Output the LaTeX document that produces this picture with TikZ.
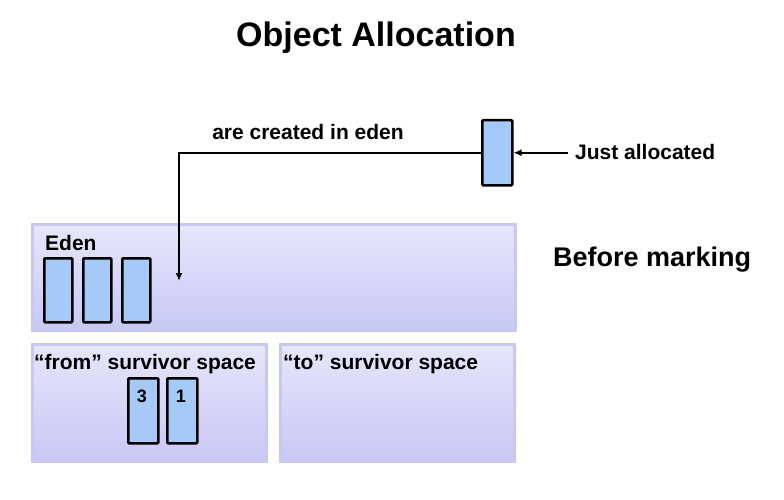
\documentclass[tikz,border=0pt]{standalone}
\usepackage{fontspec}
\setmainfont{Liberation Sans}
\usetikzlibrary{arrows.meta}
\definecolor{objfill}{RGB}{166,202,248}
\definecolor{regtop}{RGB}{230,230,251}
\definecolor{regbot}{RGB}{200,200,246}
\definecolor{regline}{RGB}{200,200,240}
\tikzset{
  region/.style={draw=regline, line width=2.5pt, top color=regtop, bottom color=regbot,
    anchor=north west, inner sep=0pt},
  obj/.style={draw=black, line width=2.5pt, fill=objfill, rounded corners=1pt,
    minimum width=28pt, minimum height=64pt, anchor=north west, inner sep=0pt},
  lbl/.style={font=\bfseries\fontsize{21}{24}\selectfont, inner sep=0pt},
  conn/.style={line width=2pt, -{Latex[length=8pt,width=7pt]}},
}
\begin{document}
\begin{tikzpicture}[x=1pt,y=-1pt]
\useasboundingbox (0,0) rectangle (784,500);
% title
\node[font=\bfseries\fontsize{34}{38}\selectfont, inner sep=0pt] (title) at (376,38) {Object Allocation};
% heap regions
\node[region, minimum width=483pt, minimum height=106pt] (eden) at (31,223) {};
\node[region, minimum width=234pt, minimum height=117pt] (from) at (31,343) {};
\node[region, minimum width=234pt, minimum height=117pt] (to) at (279,343) {};
\node[lbl, anchor=west] (edenlbl) at (45,243) {Eden};
\node[lbl, anchor=west] (fromlbl) at (34,364) {“from” survivor space};
\node[lbl, anchor=west] (tolbl) at (283,364) {“to” survivor space};
% objects in eden
\node[obj] (e1) at (43,257) {};
\node[obj] (e2) at (82,257) {};
\node[obj] (e3) at (121,257) {};
% objects in from space
\node[obj, minimum width=30pt, minimum height=65pt] (s3) at (127,377) {};
\node[obj, minimum width=30pt, minimum height=65pt] (s1) at (166,377) {};
\node[lbl, font=\bfseries\fontsize{18}{20}\selectfont] (n3) at (142,396) {3};
\node[lbl, font=\bfseries\fontsize{18}{20}\selectfont] (n1) at (181,396) {1};
% newly allocated object
\node[obj, minimum width=30pt, minimum height=65pt] (alloc) at (481,119) {};
\coordinate (drop) at (179,281);
\coordinate (jstart) at (568,151);
\draw[conn] (alloc.west) -| (drop);
\draw[conn] (jstart |- alloc.east) -- (alloc.east);
\node[lbl, anchor=south] (created) at (308,140) {are created in eden};
\node[lbl, anchor=west] (just) at (575,152) {Just allocated};
\node[font=\bfseries\fontsize{27}{30}\selectfont, inner sep=0pt, anchor=west] (before) at (553,260) {Before marking};
\end{tikzpicture}
\end{document}
